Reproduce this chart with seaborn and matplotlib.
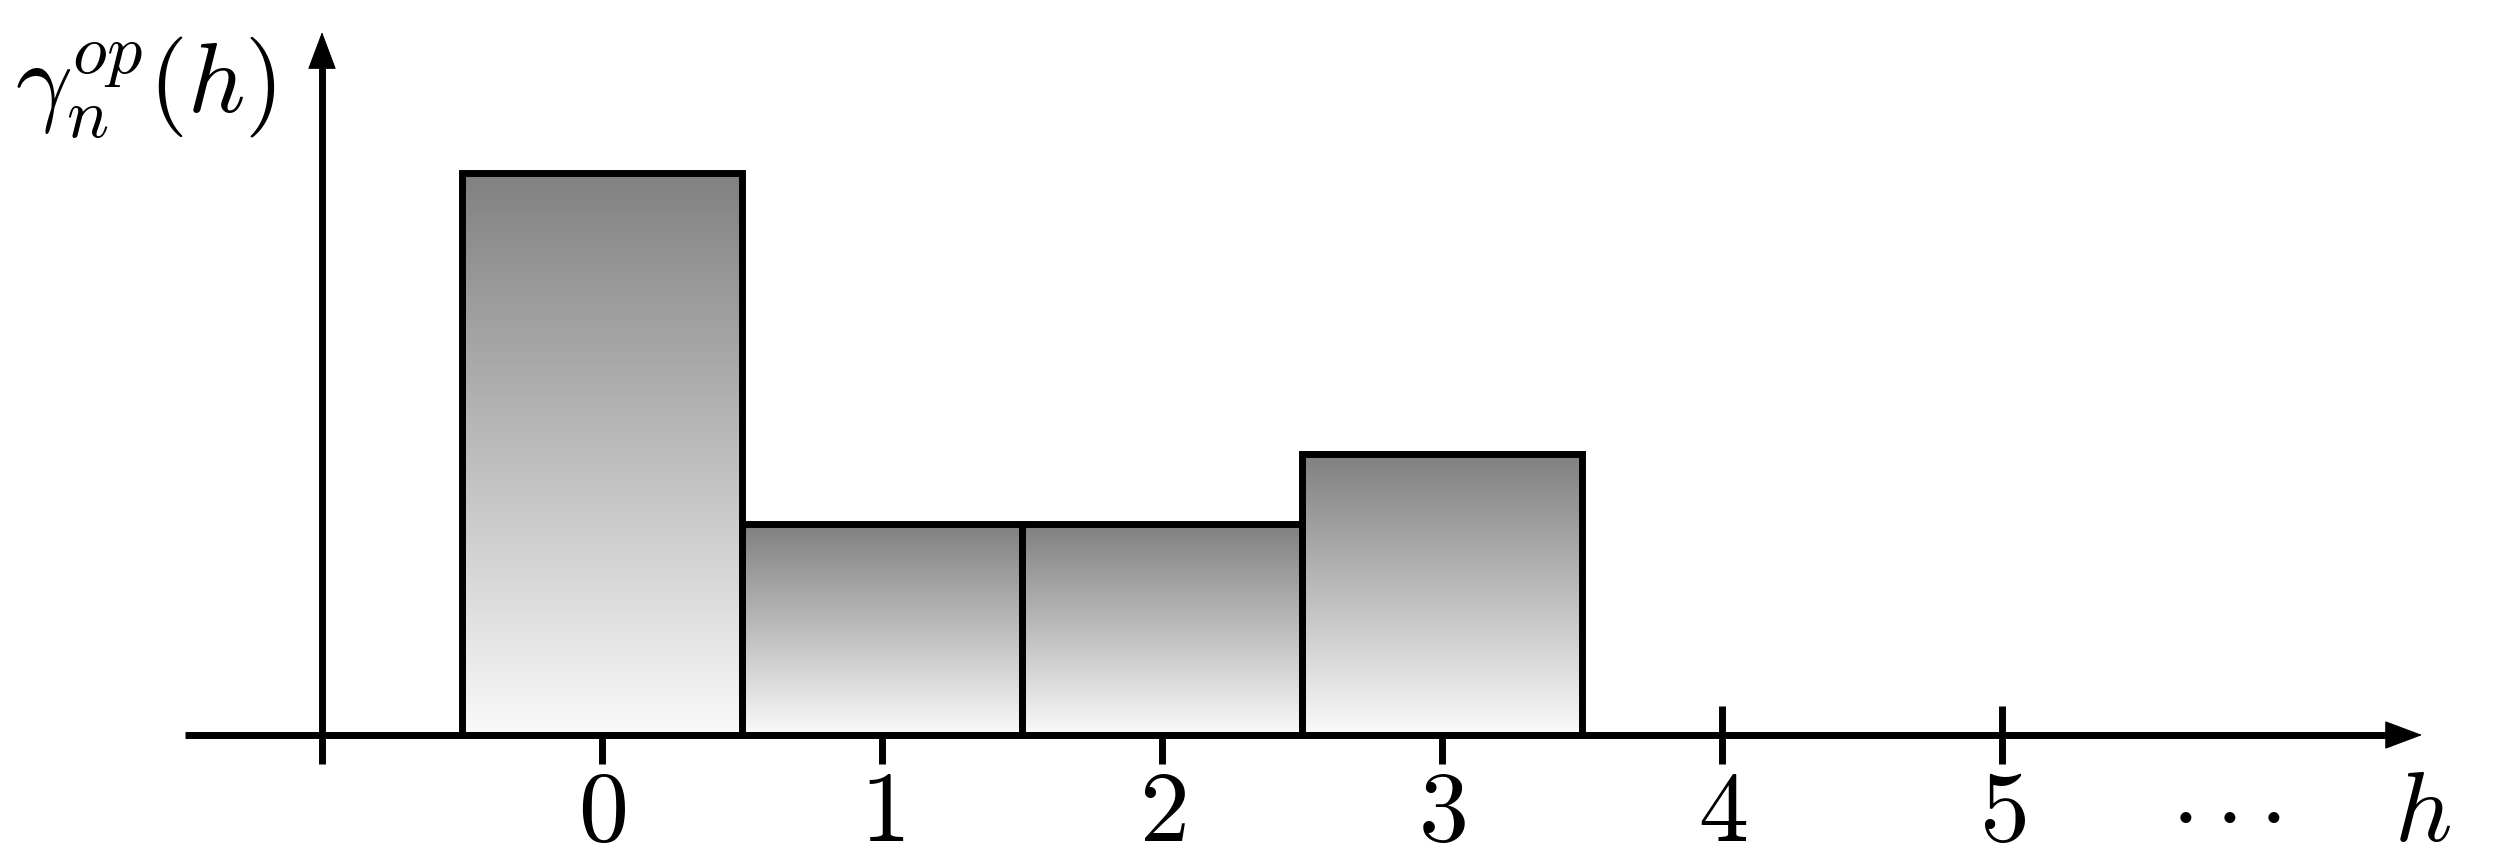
import numpy as np
import pandas as pd
import matplotlib
matplotlib.use("Agg")
import matplotlib.pyplot as plt
from matplotlib.colors import LinearSegmentedColormap
import seaborn as sns

# ---- data ----
h_values = [0, 1, 2, 3]
gamma_values = [8, 3, 3, 4]
tick_positions = [0, 1, 2, 3, 4, 5]
tick_labels = ["0", "1", "2", "3", "4", "5"]
y_label = r"$\gamma_n^{op}(h)$"
x_label = r"$h$"

sns.set_theme(style="white")
plt.rcParams["mathtext.fontset"] = "cm"
plt.rcParams["font.family"] = ["DejaVu Sans"]
plt.rcParams["text.color"] = "black"

fig = plt.figure(figsize=(25.05, 8.6), dpi=100)
ax = fig.add_axes([0, 0, 1, 1])

df = pd.DataFrame({"h": h_values, "gamma": gamma_values})
sns.barplot(data=df, x="h", y="gamma", order=h_values, ax=ax, width=1.0,
            color="white", edgecolor="black", linewidth=5, zorder=3)

cmap = LinearSegmentedColormap.from_list("shade", ["#808080", "#fafafa"])
grad = np.linspace(0, 1, 256).reshape(-1, 1)
for p in list(ax.patches):
    p.set_facecolor("none")
    x0, y0 = p.get_x(), p.get_y()
    w, hgt = p.get_width(), p.get_height()
    im = ax.imshow(grad, cmap=cmap, aspect="auto", origin="upper",
                   extent=[x0, x0 + w, y0, y0 + hgt], zorder=2,
                   interpolation="bicubic")
    im.set_clip_path(p)

LW = 5
HEAD = "-|>,head_length=25,head_width=9.4"

# x axis: shaft + head
x_start, x_tip = -1.49, 6.50
ax.hlines(0, x_start, x_tip - 0.08, color="black", lw=LW, zorder=4)
ax.annotate("", xy=(x_tip, 0), xytext=(x_tip - 0.3, 0),
            arrowprops=dict(arrowstyle=HEAD, lw=0.8, color="black",
                            mutation_scale=1, shrinkA=0, shrinkB=0), zorder=5)
# y axis: shaft + head
y_start, y_tip = -0.41, 10.0
ax.vlines(-1, y_start, y_tip - 0.3, color="black", lw=LW, zorder=4)
ax.annotate("", xy=(-1, y_tip), xytext=(-1, y_tip - 1.0),
            arrowprops=dict(arrowstyle=HEAD, lw=0.8, color="black",
                            mutation_scale=1, shrinkA=0, shrinkB=0), zorder=5)

# ticks
for t in tick_positions:
    top = 0.41 if t > max(h_values) else 0
    ax.vlines(t, -0.41, top, color="black", lw=LW, zorder=4)

FS = 72
for t, lab in zip(tick_positions, tick_labels):
    ax.text(t, -1.508, f"${lab}$", ha="center", va="baseline", fontsize=FS)
# ellipsis: three centred dots, widely spaced as in the LaTeX original
for dx in (-0.157, 0.0, 0.157):
    ax.text(5.80 + dx, -1.508, r"$\cdot$", ha="center", va="baseline",
            fontsize=FS)
ax.text(6.50, -1.508, x_label, ha="center", va="baseline", fontsize=FS)
ax.text(-1.629, 8.85, y_label, ha="center", va="baseline", fontsize=FS)

ax.set_xlim(-2.15, 6.796)
ax.set_ylim(-1.778, 10.455)
ax.set_axis_off()

fig.savefig("out.png", dpi=100)
